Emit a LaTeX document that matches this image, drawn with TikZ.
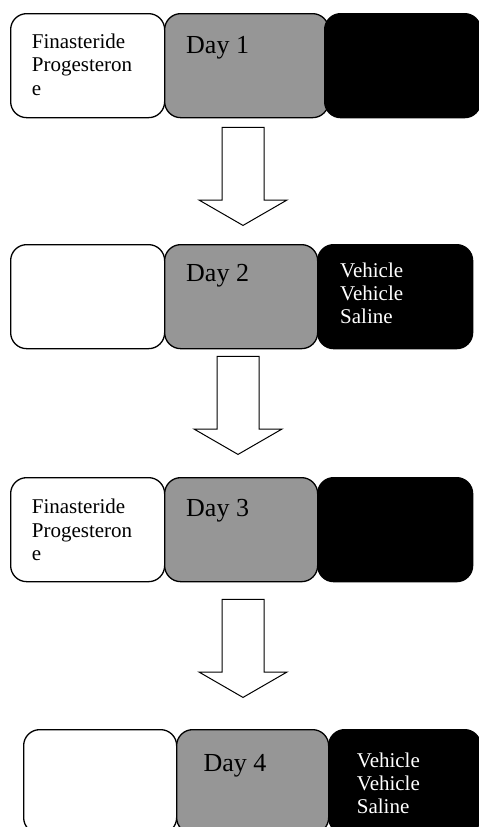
\documentclass[tikz,border=0pt]{standalone}
\usepackage{fontspec}
\setmainfont{Liberation Serif}
\usetikzlibrary{positioning,shapes.arrows}
\definecolor{daygray}{RGB}{150,150,150}
\tikzset{
	dosebox/.style={draw=black, line width=1.3pt, rounded corners=16pt, minimum height=104pt, inner sep=0pt, anchor=north west},
	drugbox/.style={dosebox, fill=white},
	daybox/.style={dosebox, fill=daygray},
	ctrlbox/.style={dosebox, fill=black},
	drugtxt/.style={font=\fontsize{21}{23.3}\selectfont, align=left, inner sep=0pt},
	ctrltxt/.style={drugtxt, text=white},
	daytxt/.style={font=\fontsize{26}{30}\selectfont, inner sep=0pt},
	downarrow/.style={single arrow, draw=black, line width=1pt, fill=white, shape border rotate=270, minimum height=98pt, single arrow head extend=23pt, single arrow tip angle=120, inner sep=20.5pt, anchor=tip}
}
\begin{document}
\begin{tikzpicture}[x=1pt,y=-1pt]
	\path[use as bounding box, clip] (0,0) rectangle (479,827);
	
	% day 1
	\node[drugbox, minimum width=154pt] (w1) at (10,13) {};
	\node[daybox, minimum width=164pt] (g1) at (164,13) {};
	\node[ctrlbox, minimum width=156pt] (b1) at (324,13) {};
	\node[drugtxt, below right=20.8pt and 21.7pt of w1.north west] (f1) {Finasteride\\Progesteron\\e};
	\node[daytxt, below right=22.7pt and 22pt of g1.north west] (d1) {Day 1};
	
	\node[downarrow] (a1) at (243,226) {};
	
	% day 2
	\node[drugbox, minimum width=154pt] (w2) at (10,244) {};
	\node[daybox, minimum width=153pt] (g2) at (164,244) {};
	\node[ctrlbox, minimum width=155pt] (b2) at (317,244) {};
	\node[daytxt, below right=20.1pt and 22pt of g2.north west] (d2) {Day 2};
	\node[ctrltxt, below right=18.4pt and 23pt of b2.north west] (v2) {Vehicle\\Vehicle\\Saline};
	
	\node[downarrow] (a2) at (238,455) {};
	
	% day 3
	\node[drugbox, minimum width=154pt] (w3) at (10,477) {};
	\node[daybox, minimum width=153pt] (g3) at (164,477) {};
	\node[ctrlbox, minimum width=155pt] (b3) at (317,477) {};
	\node[drugtxt, below right=22pt and 21.7pt of w3.north west] (f3) {Finasteride\\Progesteron\\e};
	\node[daytxt, below right=22.1pt and 22pt of g3.north west] (d3) {Day 3};
	
	\node[downarrow] (a3) at (243,698) {};
	
	% day 4
	\node[drugbox, minimum width=153pt] (w4) at (23,729) {};
	\node[daybox, minimum width=152pt] (g4) at (176,729) {};
	\node[ctrlbox, minimum width=152pt] (b4) at (328,729) {};
	\node[daytxt, below right=25.1pt and 27.3pt of g4.north west] (d4) {Day 4};
	\begin{scope}
		\clip (0,0) rectangle (479,817);
		\node[ctrltxt, below right=23.4pt and 28.7pt of b4.north west] (v4) {Vehicle\\Vehicle\\Saline};
	\end{scope}
	
\end{tikzpicture}
\end{document}
